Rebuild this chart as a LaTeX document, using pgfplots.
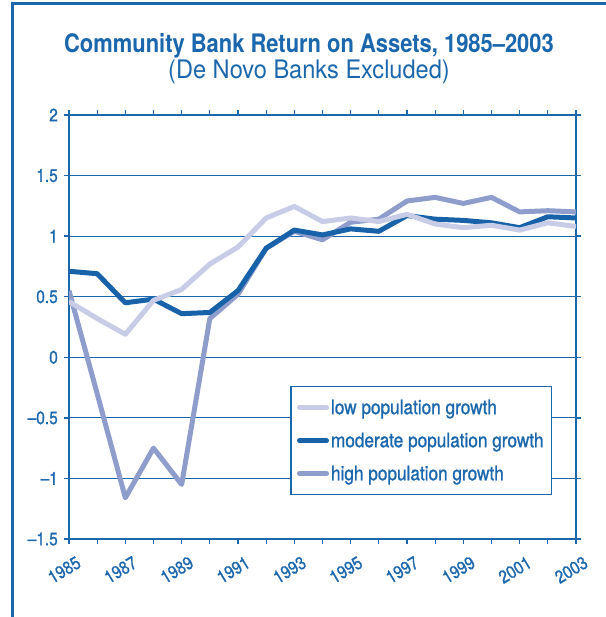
\documentclass[border=0pt]{standalone}
\usepackage{pgfplots}
\pgfplotsset{compat=1.18}
\usepackage{fontspec}
\setmainfont{TeX Gyre Heros}[FakeStretch=0.86]
\newfontfamily\medfont{TeX Gyre Heros}[FakeStretch=0.86, FakeBold=1]
\newfontfamily\subfont{TeX Gyre Heros}[FakeStretch=0.925]
\definecolor{cblue}{HTML}{1B67AD}
\definecolor{cmod}{HTML}{1762A8}
\definecolor{clow}{HTML}{C8CCE6}
\definecolor{chigh}{HTML}{8E9DCC}
\pgfplotstableread{
year low moderate high
1985 0.46 0.71 0.55
1986 0.32 0.69 -0.30
1987 0.19 0.45 -1.16
1988 0.47 0.48 -0.75
1989 0.56 0.36 -1.05
1990 0.77 0.37 0.32
1991 0.91 0.55 0.52
1992 1.15 0.90 0.90
1993 1.245 1.05 1.04
1994 1.12 1.01 0.97
1995 1.15 1.06 1.115
1996 1.12 1.04 1.14
1997 1.18 1.17 1.29
1998 1.10 1.14 1.32
1999 1.07 1.13 1.27
2000 1.09 1.11 1.32
2001 1.05 1.07 1.20
2002 1.11 1.16 1.21
2003 1.08 1.15 1.20
}\roa
\begin{document}
\begin{tikzpicture}
\path[use as bounding box] (0,0) rectangle (606bp,617bp);
\draw[cblue, line width=3bp] (12bp,0) -- (12bp,613bp) -- (606bp,613bp);
\node[anchor=base, text=cblue, font=\fontsize{25.5bp}{30bp}\selectfont\bfseries, inner sep=0] at (309bp,564.3bp) {Community Bank Return on Assets, 1985–2003};
\node[anchor=base, text=cblue, font=\subfont\fontsize{25.5bp}{30bp}\selectfont, inner sep=0] at (309bp,538.7bp) {(De Novo Banks Excluded)};
\begin{axis}[
  at={(69bp,78bp)}, anchor=south west,
  scale only axis, width=507bp, height=424bp,
  xmin=1985, xmax=2003, ymin=-1.5, ymax=2,
  xtick={1985,1987,...,2003},
  xticklabels={1985,1987,1989,1991,1993,1995,1997,1999,2001,2003},
  minor xtick={1986,1988,...,2002},
  ytick={-1.5,-1,-0.5,0,0.5,1,1.5,2},
  yticklabels={–1.5,–1,–0.5,0,0.5,1,1.5,2},
  ymajorgrids,
  grid style={cblue, line width=1bp},
  minor x grid style={draw=none},
  axis line style={cblue, line width=1.3bp},
  tick style={cblue, line width=1.3bp},
  tick align=outside, major tick length=5bp, minor tick length=5bp,
  xticklabel style={rotate=31, anchor=north east, xshift=0bp, yshift=-13bp, text=cblue, font=\medfont\fontsize{18bp}{20bp}\selectfont, inner sep=0},
  yticklabel style={text=cblue, font=\medfont\fontsize{18bp}{20bp}\selectfont, inner sep=0, xshift=-6bp},
  legend style={at={(0.953,0.361)}, anchor=north east, draw=cblue, line width=1.3bp, fill=white,
    font=\medfont\fontsize{20bp}{22bp}\selectfont, text=cblue, row sep=13bp, inner xsep=6bp, inner ysep=11bp,
    cells={anchor=west}},
  legend image code/.code={\draw[#1, line cap=round] (0bp,0bp) -- (27bp,0bp);},
  every axis plot/.append style={line width=5bp, line join=round},
]
\addlegendimage{clow}
\addlegendentry{low population growth}
\addlegendimage{cmod}
\addlegendentry{moderate population growth}
\addlegendimage{chigh}
\addlegendentry{high population growth}
\addplot[chigh, forget plot] table[x=year, y=high] {\roa};
\addplot[cmod, forget plot] table[x=year, y=moderate] {\roa};
\addplot[clow, forget plot] table[x=year, y=low] {\roa};
\end{axis}
\end{tikzpicture}
\end{document}
